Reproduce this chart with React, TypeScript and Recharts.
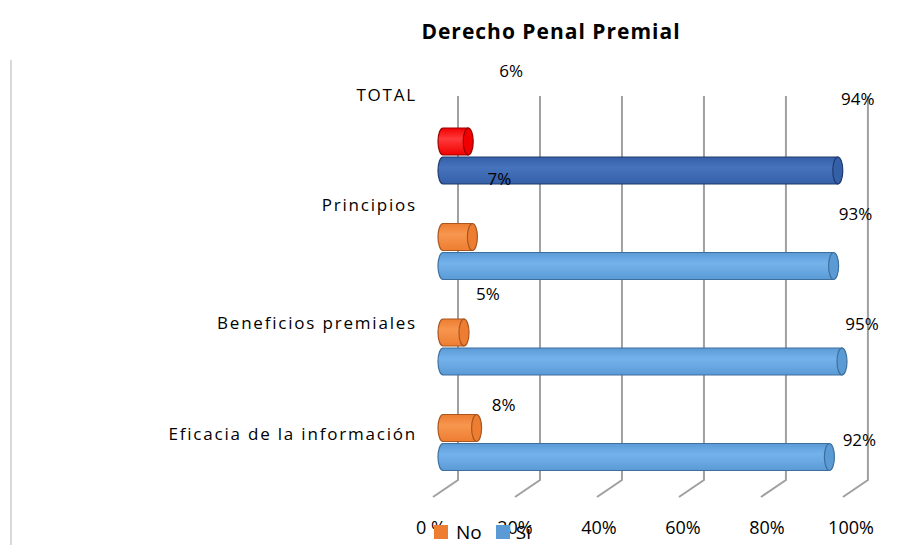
import React from 'react';
import { BarChart, Bar, XAxis, YAxis, CartesianGrid, LabelList, Legend, Cell } from 'recharts';

const categories = ['TOTAL', 'Principios', 'Beneficios premiales', 'Eficacia de la información'];
const noValues = [0.06, 0.07, 0.05, 0.08];
const siValues = [0.94, 0.93, 0.95, 0.92];
const xTicks = [0, 0.2, 0.4, 0.6, 0.8, 1];
const xTickLabels = ['0 %', '20%', '40%', '60%', '80%', '100%'];

const data = categories.map((name, i) => ({ name, no: noValues[i], si: siValues[i] }));

// the original is a 3D chart: labels drift upward more at the top
const catLift = [-59, -45, -22, -7];
const noLift = [-69, -57, -37, -22];
const siLift = [-70, -51, -36, -16];
const noShift = [43, 27, 24, 27];
const siShift = [20, 22, 20, 30];

const PLOT_LEFT = 443;
const FONT = '"Open Sans", "Liberation Sans", sans-serif';

const palette = {
  si: { base: '#5b9bd5', light: '#74b2ec', dark: '#3f6f9e' },
  siTotal: { base: '#3560a8', light: '#4673bd', dark: '#1f3a6e' },
  no: { base: '#ed7d31', light: '#f7964f', dark: '#a9561f' },
  noTotal: { base: '#f00000', light: '#ff3a3a', dark: '#9a0000' },
};

const Cylinder = (props: any) => {
  const { x, y, width, height, index, series } = props;
  if (!width || width <= 0) return null;
  const c = series === 'si' ? (index === 0 ? palette.siTotal : palette.si) : index === 0 ? palette.noTotal : palette.no;
  const id = `grad-${series}-${index}`;
  const ry = height / 2;
  const rx = Math.min(5, height * 0.2);
  const right = x + width;
  const body = `M ${x} ${y} L ${right} ${y} L ${right} ${y + height} L ${x} ${y + height} A ${rx} ${ry} 0 0 1 ${x} ${y} Z`;
  return (
    <g>
      <defs>
        <linearGradient id={id} x1="0" y1="0" x2="0" y2="1">
          <stop offset="0%" stopColor={c.base} />
          <stop offset="40%" stopColor={c.light} />
          <stop offset="100%" stopColor={c.base} />
        </linearGradient>
      </defs>
      <path d={body} fill={`url(#${id})`} stroke={c.dark} strokeWidth={1.2} />
      <ellipse cx={right} cy={y + ry} rx={rx} ry={ry} fill={c.base} stroke={c.dark} strokeWidth={1.2} />
    </g>
  );
};

const GridLine = (props: any) => {
  const { x1, y1, y2 } = props;
  const bx = x1 + 15 - (x1 - PLOT_LEFT) * 0.024;
  const top = y1 - 12;
  const bottom = y2 - 10;
  return (
    <polyline
      key={`g-${x1}`}
      points={`${bx},${top} ${bx},${bottom} ${bx - 25},${bottom + 17}`}
      fill="none"
      stroke="#a0a0a0"
      strokeWidth={2}
    />
  );
};

const CategoryTick = (props: any) => {
  const { x, y, payload, index } = props;
  return (
    <text x={x - 18} y={y + (catLift[index] ?? 0)} textAnchor="end" dominantBaseline="middle" fontFamily={FONT} fontSize={17} letterSpacing={1.8} fill="#000">
      {payload.value}
    </text>
  );
};

const PercentTick = (props: any) => {
  const { x, y, index } = props;
  return (
    <text x={x - 12} y={y + 36} textAnchor="middle" fontFamily={FONT} fontSize={18} fill="#000">
      {xTickLabels[index]}
    </text>
  );
};

const makeValueLabel = (lift: number[], shift: number[]) => (props: any) => {
  const { x, y, width, height, value, index } = props;
  return (
    <text x={x + width + shift[index]} y={y + height / 2 + lift[index]} textAnchor="middle" dominantBaseline="middle" fontFamily={FONT} fontSize={17} fill="#000">
      {`${Math.round(value * 100)}%`}
    </text>
  );
};

const LegendContent = () => (
  <div style={{ display: 'flex', alignItems: 'center', fontFamily: FONT, fontSize: 19, color: '#000' }}>
    <span style={{ width: 14, height: 14, background: palette.no.base, display: 'inline-block', marginRight: 8 }} />
    <span style={{ marginRight: 14 }}>No</span>
    <span style={{ width: 14, height: 14, background: palette.si.base, display: 'inline-block', marginRight: 6 }} />
    <span>Sí</span>
  </div>
);

export default function App() {
  return (
    <div style={{ position: 'absolute', left: 0, top: 0, width: 915, height: 545, background: '#fff' }}>
      <div style={{ position: 'absolute', left: 10, top: 60, width: 2, height: 485, background: '#d9d9d9' }} />
      <div
        style={{
          position: 'absolute',
          left: 0,
          top: 17,
          width: 1102,
          textAlign: 'center',
          fontFamily: FONT,
          fontWeight: 700,
          fontSize: 21,
          letterSpacing: 1,
        }}
      >
        Derecho Penal Premial
      </div>
      <BarChart
        width={915}
        height={545}
        data={data}
        layout="vertical"
        margin={{ top: 108, right: 52, bottom: 0, left: 0 }}
        barSize={27}
        barGap={2}
        style={{ position: 'absolute', left: 0, top: 0 }}
      >
        <CartesianGrid horizontal={false} vertical={GridLine} />
        <XAxis type="number" domain={[0, 1]} ticks={xTicks} height={55} axisLine={false} tickLine={false} tick={PercentTick} />
        <YAxis type="category" dataKey="name" width={443} axisLine={false} tickLine={false} tick={CategoryTick} />
        <Legend
          layout="horizontal"
          verticalAlign="middle"
          align="center"
          content={LegendContent}
          wrapperStyle={{ position: 'absolute', left: 434, top: 519, width: 'auto' }}
        />
        <Bar dataKey="no" name="No" fill={palette.no.base} isAnimationActive={false} shape={(p: any) => <Cylinder {...p} series="no" />}>
          {data.map((d, i) => (
            <Cell key={d.name} fill={i === 0 ? palette.noTotal.base : palette.no.base} />
          ))}
          <LabelList dataKey="no" content={makeValueLabel(noLift, noShift)} />
        </Bar>
        <Bar dataKey="si" name="Sí" fill={palette.si.base} isAnimationActive={false} shape={(p: any) => <Cylinder {...p} series="si" />}>
          {data.map((d, i) => (
            <Cell key={d.name} fill={i === 0 ? palette.siTotal.base : palette.si.base} />
          ))}
          <LabelList dataKey="si" content={makeValueLabel(siLift, siShift)} />
        </Bar>
      </BarChart>
    </div>
  );
}
